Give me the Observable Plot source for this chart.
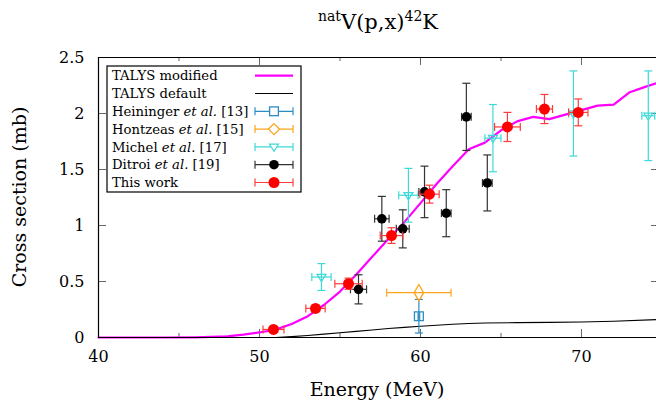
<!DOCTYPE html>
<html><head><meta charset="utf-8">
<script src="https://cdn.jsdelivr.net/npm/d3@7"></script>
<script src="https://cdn.jsdelivr.net/npm/@observablehq/plot@0.6"></script>
<style>body{margin:0;background:#fff}</style>
</head><body><div id="chart"></div>
<script>
// TALYS modified curve
const modE = [40, 44, 46, 48, 49, 50, 51, 52, 53, 54, 55, 56, 57, 58, 59, 60, 61, 62, 63, 64, 65, 66, 67, 68, 69, 70, 71, 72, 73, 74, 74.66];
const modV = [0, 0, 0.002, 0.01, 0.025, 0.045, 0.07, 0.12, 0.19, 0.29, 0.41, 0.56, 0.72, 0.88, 1.03, 1.2, 1.37, 1.53, 1.68, 1.74, 1.85, 1.93, 1.97, 1.95, 1.99, 2.03, 2.07, 2.08, 2.19, 2.24, 2.27];
// TALYS default curve
const defE = [51, 52, 53, 54, 55, 56, 57, 58, 59, 60, 61, 62, 63, 64, 66, 68, 70, 72, 74.66];
const defV = [0, 0.008, 0.018, 0.03, 0.043, 0.055, 0.067, 0.08, 0.09, 0.1, 0.11, 0.118, 0.125, 0.13, 0.133, 0.135, 0.138, 0.145, 0.16];
// Heininger et al. [13]
const heiE = [59.9], heiV = [0.19], heiDE = [0.05], heiDV = [0.15];
// Hontzeas et al. [15]
const honE = [59.9], honV = [0.40], honDE = [2.0], honDV = [0];
// Michel et al. [17]
const micE = [53.85, 59.25, 64.5, 69.5, 74.15];
const micV = [0.54, 1.27, 1.78, 2.0, 1.98];
const micDE = [0.6, 0.6, 0.5, 0.3, 0.4];
const micDV = [0.12, 0.24, 0.3, 0.38, 0.4];
// Ditroi et al. [19]
const ditE = [56.15, 57.6, 58.9, 60.25, 61.6, 62.85, 64.15];
const ditV = [0.43, 1.06, 0.97, 1.30, 1.11, 1.97, 1.38];
const ditDE = [0.5, 0.45, 0.4, 0.35, 0.3, 0.3, 0.3];
const ditDV = [0.13, 0.2, 0.17, 0.23, 0.21, 0.3, 0.25];
// This work
const thisE = [50.87, 53.48, 55.53, 58.2, 60.56, 65.4, 67.7, 69.8];
const thisV = [0.072, 0.26, 0.48, 0.91, 1.28, 1.88, 2.04, 2.01];
const thisDE = [0.65, 0.6, 0.85, 0.7, 0.6, 0.8, 0.5, 0.6];
const thisDV = [0.02, 0.03, 0.05, 0.07, 0.08, 0.13, 0.13, 0.12];

const xTicks = [40, 50, 60, 70];
const xMinor = [45, 55, 65];
const yTicks = [0, 0.5, 1, 1.5, 2, 2.5];

const legendLabels = [
  ["TALYS modified"], ["TALYS default"],
  ["Heininger ", "et al.", " [13]"], ["Hontzeas ", "et al.", " [15]"],
  ["Michel ", "et al.", " [17]"], ["Ditroi ", "et al.", " [19]"], ["This work"]
];

const FONT = "'DejaVu Serif', serif";
const C = {mod: "#ff00ff", def: "#000000", hei: "#2b8cc4", hon: "#ffa31a", mic: "#3dd9d9", dit: "#000000", ditBar: "#333333", red: "#ff0000", redBar: "#ff3b3b"};

const zip = (E, V, DE, DV) => E.map((x, i) => ({x, y: V[i], dx: DE ? DE[i] : 0, dy: DV ? DV[i] : 0}));
const curve = (E, V) => E.map((x, i) => ({x, y: V[i]}));

const vCap = {draw(ctx, size) { const r = Math.sqrt(size / Math.PI); ctx.moveTo(0, -r); ctx.lineTo(0, r); }};
const hCap = {draw(ctx, size) { const r = Math.sqrt(size / Math.PI); ctx.moveTo(-r, 0); ctx.lineTo(r, 0); }};
const triDown = {draw(ctx, size) { const r = Math.sqrt(size / Math.PI); ctx.moveTo(-r, -r * 0.6); ctx.lineTo(r, -r * 0.6); ctx.lineTo(0, r * 1.0); ctx.closePath(); }};

function errorBars(data, color, capR = 4) {
  const withDx = data.filter(d => d.dx > 0), withDy = data.filter(d => d.dy > 0);
  return [
    Plot.link(withDx, {x1: d => d.x - d.dx, x2: d => d.x + d.dx, y1: "y", y2: "y", stroke: color, strokeWidth: 1.2}),
    Plot.link(withDy, {x1: "x", x2: "x", y1: d => d.y - d.dy, y2: d => d.y + d.dy, stroke: color, strokeWidth: 1.2}),
    Plot.dot(withDx, {x: d => d.x - d.dx, y: "y", symbol: vCap, r: capR, stroke: color, strokeWidth: 1.2}),
    Plot.dot(withDx, {x: d => d.x + d.dx, y: "y", symbol: vCap, r: capR, stroke: color, strokeWidth: 1.2}),
    Plot.dot(withDy, {x: "x", y: d => d.y - d.dy, symbol: hCap, r: capR, stroke: color, strokeWidth: 1.2}),
    Plot.dot(withDy, {x: "x", y: d => d.y + d.dy, symbol: hCap, r: capR, stroke: color, strokeWidth: 1.2})
  ];
}

const hei = zip(heiE, heiV, heiDE, heiDV), hon = zip(honE, honV, honDE, honDV);
const mic = zip(micE, micV, micDE, micDV), dit = zip(ditE, ditV, ditDE, ditDV), tw = zip(thisE, thisV, thisDE, thisDV);

const W = 656, H = 406, mL = 98, mR = 0, mT = 57, mB = 69;
const pw = W - mL - mR, ph = H - mT - mB;

const chart = Plot.plot({
  width: W, height: H, marginLeft: mL, marginRight: mR, marginTop: mT, marginBottom: mB,
  style: {fontFamily: FONT, fontSize: "16px", color: "#000", background: "#fff", overflow: "visible"},
  x: {domain: [40, 74.66], ticks: xTicks, tickSize: 0, tickPadding: 13, label: null},
  y: {domain: [0, 2.5], ticks: yTicks, tickSize: 0, tickPadding: 14, label: null, tickFormat: d => String(d)},
  marks: [
    // tick marks
    Plot.tickX(xTicks, {x: d => d, insetTop: ph - 8, stroke: "#666", strokeOpacity: 1}),
    Plot.tickX(xMinor, {x: d => d, insetTop: ph - 4, stroke: "#666", strokeOpacity: 1}),
    Plot.tickX(xTicks, {x: d => d, insetBottom: ph - 8, stroke: "#666", strokeOpacity: 1}),
    Plot.tickX(xMinor, {x: d => d, insetBottom: ph - 4, stroke: "#666", strokeOpacity: 1}),
    Plot.tickY(yTicks, {y: d => d, insetRight: pw - 8, stroke: "#666", strokeOpacity: 1}),
    Plot.tickY(yTicks, {y: d => d, insetLeft: pw - 5, stroke: "#666", strokeOpacity: 1}),
    // curves
    Plot.line(curve(defE, defV), {x: "x", y: "y", stroke: C.def, strokeWidth: 1.1}),
    Plot.line(curve(modE, modV), {x: "x", y: "y", stroke: C.mod, strokeWidth: 2.2}),
    // Michel
    ...errorBars(mic, C.mic),
    Plot.dot(mic, {x: "x", y: "y", symbol: triDown, r: 4.5, stroke: C.mic, fill: "none", strokeWidth: 1.2}),
    // Heininger
    ...errorBars(hei, C.hei),
    Plot.dot(hei, {x: "x", y: "y", symbol: "square", r: 5, stroke: C.hei, fill: "none", strokeWidth: 1.3}),
    // Hontzeas
    ...errorBars(hon, C.hon),
    Plot.dot(hon, {x: "x", y: "y", symbol: "diamond", r: 5, stroke: C.hon, fill: "none", strokeWidth: 1.3}),
    // Ditroi
    ...errorBars(dit, C.ditBar),
    Plot.dot(dit, {x: "x", y: "y", r: 4.8, fill: C.dit}),
    // This work
    ...errorBars(tw, C.redBar),
    Plot.dot(tw, {x: "x", y: "y", r: 5.5, fill: C.red}),
    // frame (left, bottom, top)
    Plot.ruleY([0], {stroke: "#000", strokeWidth: 1.2}),
    Plot.ruleY([2.5], {stroke: "#000", strokeWidth: 1.2}),
    Plot.ruleX([40], {stroke: "#000", strokeWidth: 1.2})
  ]
});

document.getElementById("chart").appendChild(chart);
const svg = d3.select(chart);
svg.selectAll("text").attr("fill", "#000");

// Title
const t = svg.append("text").attr("x", 378).attr("y", 29).attr("text-anchor", "middle")
  .attr("font-family", FONT).attr("font-size", 21).attr("fill", "#000");
t.append("tspan").attr("font-size", 14).attr("dy", -8).text("nat");
t.append("tspan").attr("dy", 8).text("V(p,x)");
t.append("tspan").attr("font-size", 14).attr("dy", -8).text("42");
t.append("tspan").attr("dy", 8).text("K");

// Axis labels
svg.append("text").attr("x", mL + 279).attr("y", 396).attr("text-anchor", "middle")
  .attr("font-family", FONT).attr("font-size", 19).attr("fill", "#000").text("Energy (MeV)");
svg.append("text").attr("transform", `translate(26,${mT + ph / 2}) rotate(-90)`).attr("text-anchor", "middle")
  .attr("font-family", FONT).attr("font-size", 19).attr("fill", "#000").text("Cross section (mb)");

// Legend
const lg = svg.append("g").attr("text-anchor", "start");
const lx = 107, ly = 66, lw = 194, lh = 126, row = 17.8;
lg.append("rect").attr("x", lx).attr("y", ly).attr("width", lw).attr("height", lh)
  .attr("fill", "#fff").attr("stroke", "#000").attr("stroke-width", 1.2);
const legendStyle = [
  {c: C.mod, w: 2.2}, {c: C.def, w: 1.1}, {c: C.hei, sym: "square"}, {c: C.hon, sym: "diamond"},
  {c: C.mic, sym: "tri"}, {c: C.ditBar, fill: C.dit, sym: "dot"}, {c: C.redBar, fill: C.red, sym: "dot"}
];
legendLabels.forEach((parts, i) => {
  const cy = ly + 9.7 + i * row;
  const tx = lg.append("text").attr("x", lx + 5).attr("y", cy + 4.6).attr("text-anchor", "start")
    .attr("font-family", FONT).attr("font-size", 13.2).attr("fill", "#000");
  parts.forEach((p, j) => tx.append("tspan").attr("font-style", j === 1 ? "italic" : "normal").text(p));
  const s = legendStyle[i], x1 = 255, x2 = 293, xm = 274;
  lg.append("line").attr("x1", x1).attr("x2", x2).attr("y1", cy).attr("y2", cy)
    .attr("stroke", s.c).attr("stroke-width", s.w || 1.2);
  if (s.sym) {
    [x1, x2].forEach(xx => lg.append("line").attr("x1", xx).attr("x2", xx).attr("y1", cy - 4).attr("y2", cy + 4)
      .attr("stroke", s.c).attr("stroke-width", 1.2));
    if (s.sym === "dot") lg.append("circle").attr("cx", xm).attr("cy", cy).attr("r", s.fill === C.red ? 5.5 : 4.8).attr("fill", s.fill);
    else if (s.sym === "square") lg.append("rect").attr("x", xm - 4.4).attr("y", cy - 4.4).attr("width", 8.8).attr("height", 8.8).attr("fill", "#fff").attr("stroke", s.c).attr("stroke-width", 1.3);
    else if (s.sym === "diamond") lg.append("path").attr("d", `M${xm},${cy - 5.5}L${xm + 5.5},${cy}L${xm},${cy + 5.5}L${xm - 5.5},${cy}Z`).attr("fill", "#fff").attr("stroke", s.c).attr("stroke-width", 1.3);
    else lg.append("path").attr("d", `M${xm - 4.5},${cy - 2.7}L${xm + 4.5},${cy - 2.7}L${xm},${cy + 4.5}Z`).attr("fill", "#fff").attr("stroke", s.c).attr("stroke-width", 1.2);
  }
});
</script>
</body></html>
